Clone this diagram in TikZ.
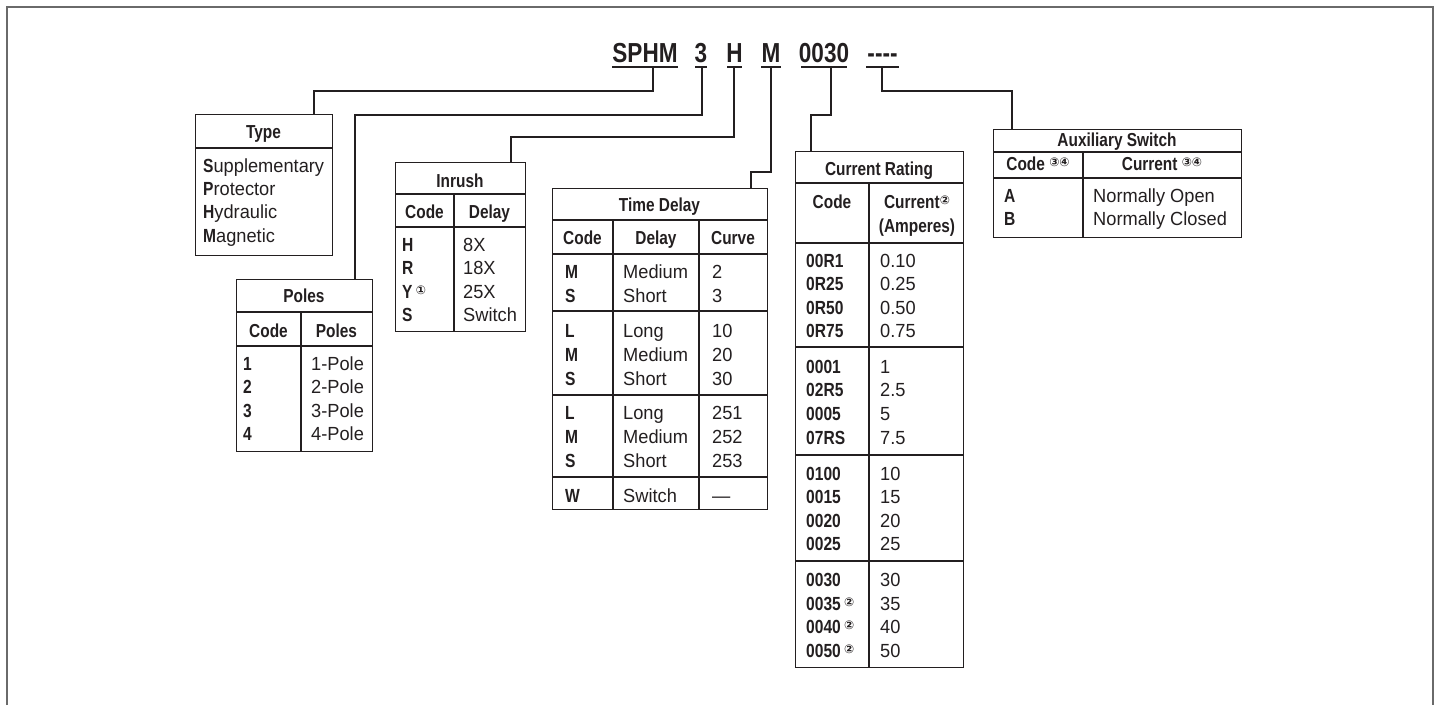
\documentclass[tikz,border=0pt]{standalone}
\usepackage{fontspec}
\setmainfont{Liberation Sans}[FakeStretch=0.96]
\newfontfamily\hb{Liberation Sans}[FakeStretch=0.82]
\newfontfamily\dvs{DejaVu Sans}
\definecolor{ink}{HTML}{231F20}
\definecolor{framec}{HTML}{6A6A6A}
\newcommand\cn[1]{\raisebox{4pt}{\dvs\fontsize{12}{12}\selectfont #1}}
\newcommand\B[1]{{\hb\bfseries #1}}
\tikzset{
  box/.style={draw=ink, line width=1.4pt, inner sep=0pt, anchor=north west},
  rule/.style={draw=ink, line width=1.4pt},
  conn/.style={draw=ink, line width=1.3pt},
  frame/.style={draw=framec, line width=2pt},
  uline/.style={draw=ink, line width=2pt},
  tl/.style={inner sep=0pt, anchor=base west, text=ink, font=\fontsize{19}{22}\selectfont},
  hd/.style={inner sep=0pt, anchor=base, text=ink, font=\hb\bfseries\fontsize{18.8}{22}\selectfont},
  big/.style={inner sep=0pt, anchor=base, text=ink, font=\hb\bfseries\fontsize{27.5}{30}\selectfont},
}
\begin{document}
\begin{tikzpicture}[x=1pt,y=-1pt]
\useasboundingbox (0,0) rectangle (1438,705);
\draw[frame] (7,705) -- (7,7) -- (1433,7) -- (1433,705);

% ---- code line
\node[big] (sphm) at (645,62) {SPHM};
\node[big] (kp) at (701,62) {3};
\node[big] (kh) at (734.5,62) {H};
\node[big] (km) at (771,62) {M};
\node[big] (kc) at (824,62) {0030};
\node[big] (kd) at (882.5,62) {----};
\draw[uline] (612,67) -- (678,67);
\draw[uline] (695,67) -- (707,67);
\draw[uline] (727,67) -- (742,67);
\draw[uline] (761,67) -- (781,67);
\draw[uline] (801,67) -- (847,67);
\draw[uline] (866,67) -- (899,67);
\coordinate (u1) at (653,67);
\coordinate (u2) at (702,67);
\coordinate (u3) at (734,67);
\coordinate (u4) at (771,67);
\coordinate (u5) at (831,67);
\coordinate (u6) at (882,67);

% ---- boxes
\node[box, minimum width=137pt, minimum height=141pt] (typebox) at (195,114) {};
\node[box, minimum width=136pt, minimum height=172pt] (polesbox) at (236,279) {};
\node[box, minimum width=130pt, minimum height=169pt] (inrushbox) at (395,162) {};
\node[box, minimum width=215pt, minimum height=321pt] (tdbox) at (552,188) {};
\node[box, minimum width=168pt, minimum height=516pt] (crbox) at (795,151) {};
\node[box, minimum width=248pt, minimum height=108pt] (auxbox) at (993,129) {};

% ---- connectors
\draw[conn] (u1) |- (314,91) -- (314,91 |- typebox.north);
\draw[conn] (u2) |- (355,115) -- (355,115 |- polesbox.north);
\draw[conn] (u3) |- (511,137) -- (511,137 |- inrushbox.north);
\draw[conn] (u4) |- (751,172) -- (751,172 |- tdbox.north);
\draw[conn] (u5) |- (811,115) -- (811,115 |- crbox.north);
\draw[conn] (u6) |- (1012,91) -- (1012,91 |- auxbox.north);

% ---- Type
\draw[rule] (195,148) -- (332,148);
\node[hd] (typeh) at (263.5,138) {Type};
\foreach \yy/\tt [count=\i] in {172/{\B{S}upplementary},195.4/{\B{P}rotector},218.8/{\B{H}ydraulic},242.2/{\B{M}agnetic}}
  \node[tl] (ty\i) at (203,\yy) {\tt};

% ---- Poles
\draw[rule] (236,312) -- (372,312);
\draw[rule] (236,346) -- (372,346);
\draw[rule] (301,312) -- (301,451);
\node[hd] (polh) at (304,302) {Poles};
\node[hd] (polc) at (268.5,337) {Code};
\node[hd] (polp) at (336.5,337) {Poles};
\foreach \yy/\cc/\vv [count=\i] in {370/1/1-Pole,393.5/2/2-Pole,417/3/3-Pole,440.5/4/4-Pole}{
  \node[tl] (pc\i) at (243,\yy) {\B{\cc}};
  \node[tl] (pv\i) at (311,\yy) {\vv};
}

% ---- Inrush
\draw[rule] (395,194) -- (525,194);
\draw[rule] (395,227) -- (525,227);
\draw[rule] (454,194) -- (454,331);
\node[hd] (inh) at (460,187) {Inrush};
\node[hd] (inc) at (424.5,218) {Code};
\node[hd] (ind) at (489.5,218) {Delay};
\foreach \yy/\cc/\vv [count=\i] in {251/H/8X,274.5/R/18X,298/{Y\,\cn{①}}/25X,321.5/S/Switch}{
  \node[tl] (ic\i) at (402,\yy) {\B{\cc}};
  \node[tl] (iv\i) at (463,\yy) {\vv};
}

% ---- Time Delay
\foreach \yy in {220,254,311,395,477}
  \draw[rule] (552,\yy) -- (767,\yy);
\draw[rule] (613,220) -- (613,509);
\draw[rule] (699,220) -- (699,509);
\node[hd] (tdh) at (659.5,211) {Time Delay};
\node[hd] (tdc) at (582.5,244) {Code};
\node[hd] (tdd) at (656,244) {Delay};
\node[hd] (tdv) at (733,244) {Curve};
\foreach \yy/\cc/\dd/\vv [count=\i] in {278/M/Medium/2,302/S/Short/3,
  337/L/Long/10,361/M/Medium/20,385/S/Short/30,
  419/L/Long/251,443/M/Medium/252,467/S/Short/253,
  502/W/Switch/{—}}{
  \node[tl] (tc\i) at (565,\yy) {\B{\cc}};
  \node[tl] (td\i) at (623,\yy) {\dd};
  \node[tl] (tv\i) at (712,\yy) {\vv};
}

% ---- Current Rating
\foreach \yy in {183,243,347,455,561}
  \draw[rule] (795,\yy) -- (963,\yy);
\draw[rule] (869,183) -- (869,667);
\node[hd] (crh) at (879,175) {Current Rating};
\node[hd] (crc) at (832,208) {Code};
\node[hd] (cra) at (917,208) {Current\cn{②}};
\node[hd] (crb) at (917,232) {(Amperes)};
\foreach \yy/\cc/\vv [count=\i] in {267/00R1/0.10,290.5/0R25/0.25,314/0R50/0.50,337.5/0R75/0.75,
  373/0001/1,396.7/02R5/2.5,420.3/0005/5,444/07RS/7.5,
  480/0100/10,503.5/0015/15,527/0020/20,550.5/0025/25,
  586.5/0030/30,610/{0035\,\cn{②}}/35,633.5/{0040\,\cn{②}}/40,657/{0050\,\cn{②}}/50}{
  \node[tl] (cc\i) at (806,\yy) {\B{\cc}};
  \node[tl] (cv\i) at (880,\yy) {\vv};
}

% ---- Auxiliary Switch
\draw[rule] (993,152) -- (1241,152);
\draw[rule] (993,178) -- (1241,178);
\draw[rule] (1083,152) -- (1083,237);
\node[hd] (axh) at (1117,146) {Auxiliary Switch};
\node[hd] (axc) at (1038,170) {Code \cn{③④}};
\node[hd] (axv) at (1162,170) {Current \cn{③④}};
\node[tl] (ac1) at (1004,202) {\B{A}};
\node[tl] (av1) at (1093,202) {Normally Open};
\node[tl] (ac2) at (1004,225) {\B{B}};
\node[tl] (av2) at (1093,225) {Normally Closed};
\end{tikzpicture}
\end{document}
